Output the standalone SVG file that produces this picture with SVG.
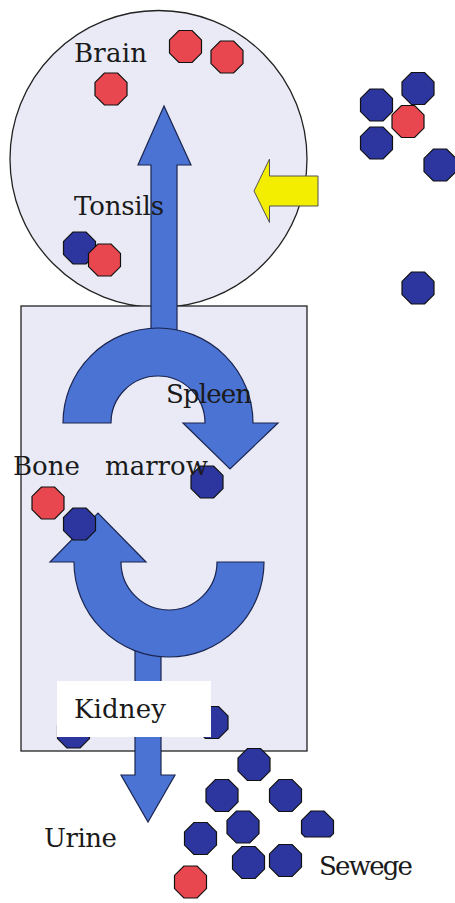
<svg xmlns="http://www.w3.org/2000/svg" width="455" height="903" viewBox="0 0 455 903">
<style>
.organ{fill:#e9eaf5;stroke:#222;stroke-width:1.3}
.flow{fill:#4a73d3;stroke:#1b2550;stroke-width:1.2;stroke-linejoin:miter}
.yel{fill:#f3ee00;stroke:#555;stroke-width:1}
.b{fill:#2d369e;stroke:#111;stroke-width:1.2}
.r{fill:#e8474f;stroke:#111;stroke-width:1.2}
.lbl{font-family:"DejaVu Serif","Liberation Serif",serif;font-size:26px;fill:#1a1a1a}
.box{fill:#ffffff}
</style>
<defs>
<polygon id="oct" points="-6.6,-16 6.6,-16 16,-6.6 16,6.6 6.6,16 -6.6,16 -16,6.6 -16,-6.6"/>
</defs>
<rect width="455" height="903" fill="#ffffff"/>

<g id="brain">
<circle class="organ" cx="158.5" cy="159" r="148.5"/>
</g>
<g id="bone-marrow">
<rect class="organ" x="21" y="306" width="286" height="445"/>
</g>

<g id="connectors">
<polygon id="arrow-in" class="yel" points="254,191 269.5,159 269.5,176 318,176 318,206 269.5,206 269.5,222.5"/>
<polygon id="arrow-up" class="flow" points="151,332 151,165 138,165 164,106 191,165 177,165 177,332"/>
<path id="loop-spleen" class="flow" d="M63,423 A95,95 0 0 1 253,423 L278,423 L230,469 L183,423 L205,423 A47,47 0 0 0 111,423 Z"/>
<polygon id="arrow-down" class="flow" points="135,645 161,645 161,775 175,775 148,822 121,775 135,775"/>
<path id="loop-marrow" class="flow" d="M264,562 A95,95 0 0 1 74,562 L50,562 L98,513 L146,562 L121,562 A48,48 0 0 0 217,562 Z"/>
</g>

<g id="cells">
<use href="#oct" class="r" x="185.5" y="46.5"/>
<use href="#oct" class="r" x="227" y="57"/>
<use href="#oct" class="r" x="111" y="89"/>
<use href="#oct" class="b" x="376.5" y="105"/>
<use href="#oct" class="b" x="418" y="88.5"/>
<use href="#oct" class="b" x="376.5" y="143"/>
<use href="#oct" class="b" x="440" y="165"/>
<use href="#oct" class="r" x="408" y="121.5"/>
<use href="#oct" class="b" x="418" y="288"/>
<use href="#oct" class="b" x="79.5" y="248"/>
<use href="#oct" class="r" x="104.5" y="260"/>
<use href="#oct" class="b" x="207" y="482"/>
<use href="#oct" class="r" x="48" y="503"/>
<use href="#oct" class="b" x="79.5" y="524"/>
<use href="#oct" class="b" x="73.5" y="732"/>
<use href="#oct" class="b" x="212" y="722.5"/>
<use href="#oct" class="b" x="254" y="764.5"/>
<use href="#oct" class="b" x="222" y="795.5"/>
<use href="#oct" class="b" x="285.5" y="795.5"/>
<use href="#oct" class="b" x="243" y="827"/>
<polygon class="b" points="310.9,811 324.1,811 333.5,820.4 333.5,833.6 330.1,837 304.9,837 301.5,833.6 301.5,820.4"/>
<use href="#oct" class="b" x="200.5" y="838.5"/>
<use href="#oct" class="b" x="285.5" y="860.5"/>
<use href="#oct" class="b" x="248.5" y="862.5"/>
<use href="#oct" class="r" x="190.5" y="882"/>
</g>

<g id="kidney">
<rect class="box" x="57" y="681" width="154" height="56"/>
<text class="lbl" x="74" y="718" textLength="92">Kidney</text>
</g>

<g id="labels">
<text class="lbl" x="74" y="62" textLength="73">Brain</text>
<text class="lbl" x="74" y="215" textLength="90">Tonsils</text>
<text class="lbl" x="166" y="403" textLength="86">Spleen</text>
<text class="lbl" x="13" y="475">Bone <tspan x="105">marrow</tspan></text>
<text class="lbl" x="44" y="847" textLength="73">Urine</text>
<text class="lbl" x="319" y="875" textLength="94">Sewege</text>
</g>
</svg>
